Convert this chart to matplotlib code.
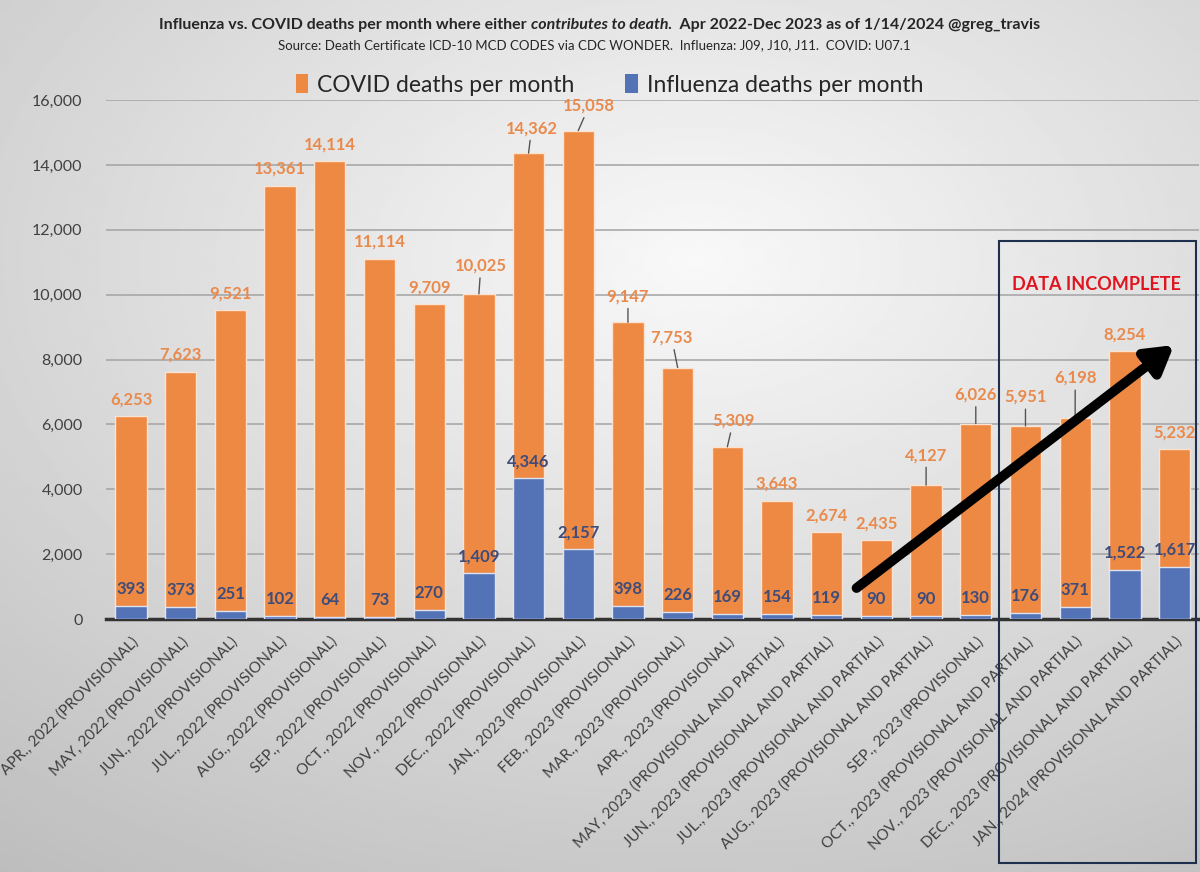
import numpy as np
import matplotlib
matplotlib.use("Agg")
import matplotlib.pyplot as plt
from matplotlib.patches import Rectangle, Patch

plt.rcParams['font.family'] = ['Lato', 'DejaVu Sans']

# months shown on the x axis
months = ["APR., 2022 (PROVISIONAL)", "MAY, 2022 (PROVISIONAL)", "JUN., 2022 (PROVISIONAL)",
          "JUL., 2022 (PROVISIONAL)", "AUG., 2022 (PROVISIONAL)", "SEP., 2022 (PROVISIONAL)",
          "OCT., 2022 (PROVISIONAL)", "NOV., 2022 (PROVISIONAL)", "DEC., 2022 (PROVISIONAL)",
          "JAN., 2023 (PROVISIONAL)", "FEB., 2023 (PROVISIONAL)", "MAR., 2023 (PROVISIONAL)",
          "APR., 2023 (PROVISIONAL)", "MAY, 2023 (PROVISIONAL AND PARTIAL)",
          "JUN., 2023 (PROVISIONAL AND PARTIAL)", "JUL., 2023 (PROVISIONAL AND PARTIAL)",
          "AUG., 2023 (PROVISIONAL AND PARTIAL)", "SEP., 2023 (PROVISIONAL)",
          "OCT., 2023 (PROVISIONAL AND PARTIAL)", "NOV., 2023 (PROVISIONAL AND PARTIAL)",
          "DEC., 2023 (PROVISIONAL AND PARTIAL)", "JAN., 2024 (PROVISIONAL AND PARTIAL)"]

# covid - deaths per month where COVID contributes
# flu - deaths per month where influenza contributes
covid = [6253, 7623, 9521, 13361, 14114, 11114, 9709, 10025, 14362, 15058, 9147,
         7753, 5309, 3643, 2674, 2435, 4127, 6026, 5951, 6198, 8254, 5232]
flu = [393, 373, 251, 102, 64, 73, 270, 1409, 4346, 2157, 398, 226, 169, 154,
       119, 90, 90, 130, 176, 371, 1522, 1617]

# labels moved up with a leader line: index -> (dx, dy) in pixels
leaders = {7: (2, 28), 8: (3, 25), 9: (11, 25), 10: (0, 26), 11: (-6, 30),
           12: (6, 26), 16: (0, 30), 17: (0, 29), 18: (0, 29), 19: (0, 40)}

orange = '#EE8944'
blue = '#5472B6'
covid_txt = '#E98A4C'
flu_txt = '#3E4C7A'
grey_txt = '#404040'

fig = plt.figure(figsize=(12.0, 8.72), dpi=100)

# background gradient, light in the upper middle, greyer at the edges
bg = fig.add_axes([0, 0, 1, 1], zorder=-10)
yy, xx = np.mgrid[0:1:300j, 0:1:400j]
r = np.sqrt(((xx - 0.58) / 1.0) ** 2 + ((yy - 0.3) / 0.9) ** 2)
g = np.clip(0.975 - 0.24 * r, 0.74, 0.975)
bg.imshow(g, cmap='gray', vmin=0, vmax=1, aspect='auto', extent=[0, 1, 1, 0])
bg.set_axis_off()

ax = fig.add_axes([0.0885, 0.2901, 0.911, 0.5952])
ax.patch.set_alpha(0)
x = np.arange(len(months))
px = 0.72  # points per pixel

ax.bar(x, covid, width=0.63, color=orange, edgecolor='#FBE3D2', linewidth=1, zorder=2)
ax.bar(x, flu, width=0.63, color=blue, edgecolor='#DCE3F2', linewidth=1, zorder=3)

ax.set_xlim(-0.5, len(months) - 0.5)
ax.set_ylim(0, 16000)
ax.set_yticks(np.arange(0, 16001, 2000))
ax.set_yticklabels([f'{v:,}' for v in range(0, 16001, 2000)])
ax.yaxis.grid(True, color='#A3A3A3', linewidth=1.1, zorder=0)
ax.set_axisbelow(True)
for s in ['top', 'right', 'left']:
    ax.spines[s].set_visible(False)
ax.spines['bottom'].set_color('#333333')
ax.spines['bottom'].set_linewidth(2.5)
ax.tick_params(axis='both', length=0, colors=grey_txt)
ax.tick_params(axis='y', labelsize=11.5, pad=17)
ax.set_xticks(x)
ax.set_xticklabels(months, rotation=45, ha='right', rotation_mode='anchor',
                   fontsize=11, color=grey_txt)
ax.tick_params(axis='x', pad=11)

for i, v in enumerate(covid):
    if i in leaders:
        dx, dy = leaders[i]
        ax.annotate(f'{v:,}', xy=(i, v), xytext=(dx * px, dy * px),
                    textcoords='offset points', ha='center', va='center',
                    fontsize=12, fontweight='bold', color=covid_txt, zorder=5,
                    arrowprops=dict(arrowstyle='-', color='#555555', lw=1,
                                    shrinkA=1, shrinkB=0))
    else:
        ax.annotate(f'{v:,}', xy=(i, v), xytext=(0, 17 * px),
                    textcoords='offset points', ha='center', va='center',
                    fontsize=12, fontweight='bold', color=covid_txt, zorder=5)

for i, v in enumerate(flu):
    ax.annotate(f'{v:,}', xy=(i, v), xytext=(0, 17 * px),
                textcoords='offset points', ha='center', va='center',
                fontsize=12, fontweight='bold', color=flu_txt, zorder=5)

# box around the incomplete months
ax.add_patch(Rectangle((17.46, -7520), 3.98, 7520 + 11650, fill=False,
                       edgecolor='#1F2F4E', linewidth=1.5, clip_on=False, zorder=6))
ax.text(19.43, 10300, 'DATA INCOMPLETE', ha='center', va='center', fontsize=13,
        fontweight='bold', color='#E0141E', zorder=6)

# trend arrow
ax.annotate('', xy=(20.99, 8446), xytext=(14.6, 955),
            arrowprops=dict(arrowstyle='-|>,head_length=1.6,head_width=0.95',
                            color='black', lw=7, shrinkA=0, shrinkB=0),
            zorder=7, annotation_clip=False)

# title: plain, italic, plain pieces laid side by side
parts = [("Influenza vs. COVID deaths per month where either ", 'normal'),
         ("contributes to death", 'italic'),
         (".  Apr 2022-Dec 2023 as of 1/14/2024 @greg_travis", 'normal')]
renderer = fig.canvas.get_renderer()
texts = []
for s, st in parts:
    t = fig.text(0, 1 - 25 / 872, s, fontsize=11.5, fontweight='bold', style=st,
                 color='#262626', ha='left', va='center')
    texts.append(t)
widths = [t.get_window_extent(renderer).width for t in texts]
xpos = 600 - sum(widths) / 2
for t, w in zip(texts, widths):
    t.set_x(xpos / 1200)
    xpos += w

fig.text(0.495, 1 - 45 / 872,
         'Source: Death Certificate ICD-10 MCD CODES via CDC WONDER.  Influenza: J09, J10, J11.  COVID: U07.1',
         ha='center', va='center', fontsize=9.5, color='#262626')

handles = [Patch(facecolor=orange, label='COVID deaths per month'),
           Patch(facecolor=blue, label='Influenza deaths per month')]
fig.legend(handles=handles, loc='center', bbox_to_anchor=(0.508, 1 - 85 / 872),
           ncol=2, frameon=False, fontsize=16.5, handlelength=0.55, handleheight=0.9,
           handletextpad=0.4, columnspacing=2.2, labelcolor='#262626')

fig.savefig('out.png', dpi=100)
